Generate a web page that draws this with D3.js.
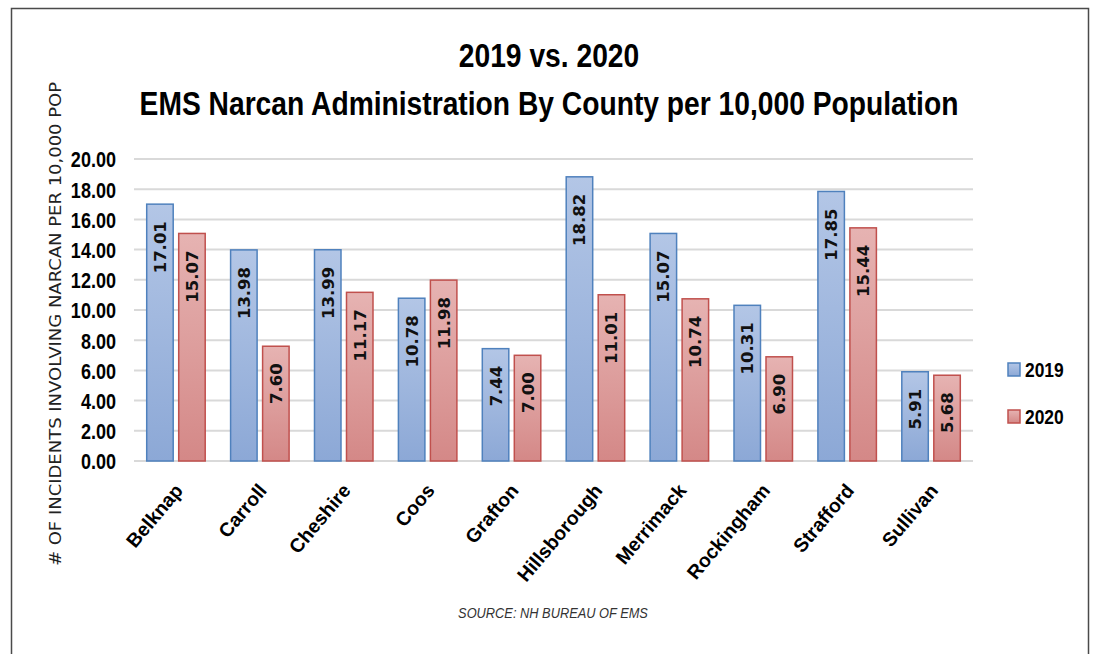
<!DOCTYPE html>
<html>
<head>
<meta charset="utf-8">
<script src="https://cdn.jsdelivr.net/npm/d3@7"></script>
<style>
  html, body { margin: 0; padding: 0; background: #fff; }
  svg { display: block; }
</style>
</head>
<body>
<svg id="chart" width="1093" height="654"></svg>
<script>
const counties = ["Belknap","Carroll","Cheshire","Coos","Grafton","Hillsborough","Merrimack","Rockingham","Strafford","Sullivan"];
const years = ["2019","2020"];
const values2019 = [17.01,13.98,13.99,10.78,7.44,18.82,15.07,10.31,17.85,5.91];
const values2020 = [15.07,7.60,11.17,11.98,7.00,11.01,10.74,6.90,15.44,5.68];
const yTicks = [0,2,4,6,8,10,12,14,16,18,20];
const titleLines = ["2019 vs. 2020","EMS Narcan Administration By County per 10,000 Population"];
const yTitle = "# OF INCIDENTS INVOLVING NARCAN PER 10,000 POP";
const sourceText = "SOURCE: NH BUREAU OF EMS";

const seriesValues = {"2019": values2019, "2020": values2020};
const data = counties.map((c, i) => ({county: c, values: years.map(y => ({year: y, value: seriesValues[y][i]}))}));

const svg = d3.select("#chart");
const sans = "'Liberation Sans',Arial,sans-serif";
const condensed = 0.82; // horizontal squeeze to imitate a condensed (Calibri-like) face

// outer border
svg.append("rect").attr("x", 11.5).attr("y", 8.5).attr("width", 1077).attr("height", 700)
  .attr("fill", "none").attr("stroke", "#4a4a4a").attr("stroke-width", 1.5);

// gradients
const defs = svg.append("defs");
const grads = {"2019": ["#b3c6e6", "#8ca8d6"], "2020": ["#e6b3b2", "#d48887"]};
years.forEach(y => {
  const g = defs.append("linearGradient").attr("id", "g" + y).attr("x1", 0).attr("y1", 0).attr("x2", 0).attr("y2", 1);
  g.append("stop").attr("offset", "0%").attr("stop-color", grads[y][0]);
  g.append("stop").attr("offset", "100%").attr("stop-color", grads[y][1]);
});
const strokes = {"2019": "#4f81bd", "2020": "#c0504d"};

const x0 = d3.scaleBand().domain(counties).range([134, 973]).padding(0);
const x1 = d3.scaleBand().domain(years).range([0, x0.bandwidth()]).paddingInner(0.172).paddingOuter(0.397);
const y = d3.scaleLinear().domain([0, 20]).range([461, 159]);

// gridlines
svg.append("g").selectAll("line").data(yTicks).join("line")
  .attr("x1", 134).attr("x2", 973)
  .attr("y1", d => y(d)).attr("y2", d => y(d))
  .attr("stroke", "#d9d9d9").attr("stroke-width", 2);

// y axis labels
const yAxis = d3.axisLeft(y).tickValues(yTicks).tickFormat(d3.format(".2f")).tickSize(0).tickPadding(0);
const ya = svg.append("g").attr("transform", "translate(116,0)").call(yAxis);
ya.select(".domain").remove();
ya.selectAll("text").attr("font-family", sans).attr("font-weight", "bold").attr("font-size", 22)
  .attr("fill", "#000").attr("dy", "0.36em").attr("transform", `scale(${condensed},1)`);

// bars
const groups = svg.append("g").selectAll("g").data(data).join("g")
  .attr("transform", d => `translate(${x0(d.county)},0)`);
groups.selectAll("rect").data(d => d.values).join("rect")
  .attr("x", d => x1(d.year)).attr("width", x1.bandwidth())
  .attr("y", d => y(d.value)).attr("height", d => y(0) - y(d.value))
  .attr("fill", d => `url(#g${d.year})`).attr("stroke", d => strokes[d.year]).attr("stroke-width", 1.5);

groups.selectAll("text").data(d => d.values).join("text")
  .attr("transform", d => `translate(${x1(d.year) + x1.bandwidth() / 2},${y(d.value) + 17}) rotate(-90)`)
  .attr("text-anchor", "end").attr("dy", "0.36em")
  .attr("font-family", "'DejaVu Sans',sans-serif").attr("font-weight", "bold").attr("font-size", 16.5)
  .attr("fill", "#111")
  .text(d => d3.format(".2f")(d.value));

// x axis category labels
const xAxis = d3.axisBottom(x0).tickSize(0).tickPadding(0);
const xa = svg.append("g").attr("transform", "translate(0,461)").call(xAxis);
xa.select(".domain").remove();
xa.selectAll(".tick text")
  .attr("text-anchor", "end").attr("y", 0).attr("dy", 0)
  .attr("transform", "translate(8,30) rotate(-50)")
  .attr("font-family", sans).attr("font-weight", "bold").attr("font-size", 19.5)
  .attr("fill", "#000");

// title
svg.append("g").selectAll("text").data(titleLines).join("text")
  .attr("transform", (d, i) => `translate(549,${67 + i * 48}) scale(0.83,1)`)
  .attr("text-anchor", "middle")
  .attr("font-family", sans).attr("font-weight", "bold").attr("font-size", 34)
  .attr("fill", "#000")
  .text(d => d);

// y axis title
svg.append("text")
  .attr("transform", "translate(56,324) rotate(-90) scale(1.2,1)")
  .attr("text-anchor", "middle").attr("dy", "0.36em")
  .attr("font-family", "'DejaVu Sans',sans-serif").attr("font-size", 15).attr("fill", "#222")
  .text(yTitle);

// source
svg.append("text").attr("transform", "translate(553,618) scale(0.855,1)").attr("text-anchor", "middle")
  .attr("font-family", sans).attr("font-style", "italic").attr("font-size", 15).attr("fill", "#333")
  .text(sourceText);

// legend
const lg = svg.append("g").selectAll("g").data(years).join("g")
  .attr("transform", (d, i) => `translate(1008,${363 + i * 47})`);
lg.append("rect").attr("width", 12).attr("height", 13)
  .attr("fill", d => `url(#g${d})`).attr("stroke", d => strokes[d]).attr("stroke-width", 1.5);
lg.append("text").attr("transform", "translate(17,6.5) scale(0.83,1)").attr("dy", "0.36em")
  .attr("font-family", sans).attr("font-weight", "bold").attr("font-size", 21).attr("fill", "#000")
  .text(d => d);
</script>
</body>
</html>
